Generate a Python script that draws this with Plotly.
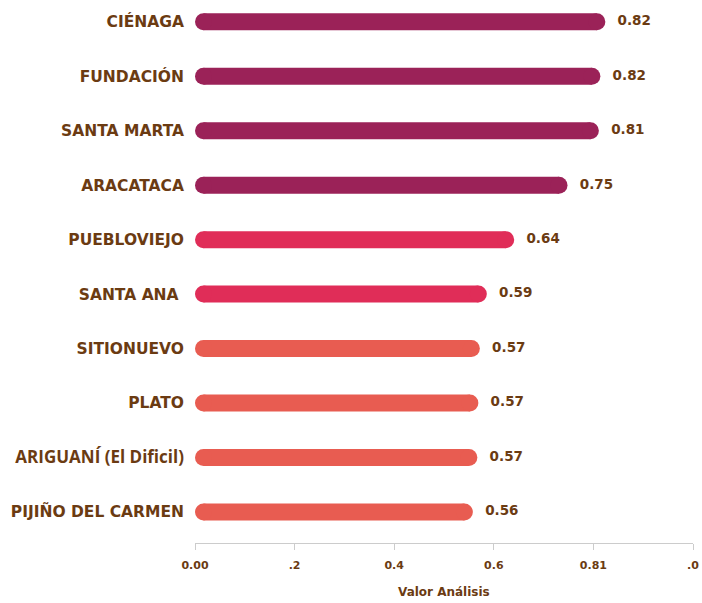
import plotly.graph_objects as go

categories = ["CIÉNAGA", "FUNDACIÓN", "SANTA MARTA", "ARACATACA", "PUEBLOVIEJO",
              "SANTA ANA ", "SITIONUEVO", "PLATO", "ARIGUANÍ (El Dificil)", "PIJIÑO DEL CARMEN"]
values = [0.824, 0.814, 0.811, 0.748, 0.641, 0.586, 0.572, 0.569, 0.567, 0.558]
labels = ["0.82", "0.82", "0.81", "0.75", "0.64", "0.59", "0.57", "0.57", "0.57", "0.56"]
groups = [0, 0, 0, 0, 1, 1, 2, 2, 2, 2]
group_colors = ["#9B2258", "#E02D58", "#E85C51"]
tick_vals = [0, 0.2, 0.4, 0.6, 0.8, 1.0]
tick_text = ["0.00", ".2", "0.4", "0.6", "0.81", ".0"]
x_title = "Valor Análisis"

W, H = 702, 603
margin = dict(l=195, r=9, t=0, b=60)
plot_w = W - margin["l"] - margin["r"]
plot_h = H - margin["t"] - margin["b"]
x_range = [0, 1.0]
bar_px = 17
cap = (bar_px / 2) * (x_range[1] - x_range[0]) / plot_w

brown = "#6B3B12"

fig = go.Figure()
for i, (cat, v) in enumerate(zip(categories, values)):
    col = group_colors[groups[i]]
    fig.add_trace(go.Scatter(
        x=[cap, v - cap], y=[i, i], mode="lines+markers",
        line=dict(color=col, width=bar_px),
        marker=dict(color=col, size=bar_px, line=dict(width=0)),
        hoverinfo="skip", showlegend=False))

fig.add_trace(go.Scatter(
    x=values, y=list(range(len(values))), mode="markers+text",
    marker=dict(size=18, opacity=0),
    text=labels, textposition="middle right",
    textfont=dict(family="DejaVu Sans", size=13.5, color=brown, weight="bold"),
    showlegend=False, hoverinfo="skip", cliponaxis=False))

ytext = []
for c in categories:
    if c.startswith("ARIGUAN"):
        ytext.append(f"<span style=\"font-family:'Open Sans';font-size:17px\"><b>{c}</b></span>")
    else:
        ytext.append(f"<b>{c}</b>")

# axis title as a paper annotation below the tick labels
fig.add_annotation(xref="paper", yref="paper", x=0.5, y=-49 / plot_h,
                   xanchor="center", yanchor="middle", showarrow=False,
                   text=f"<b>{x_title}</b>",
                   font=dict(family="DejaVu Sans", size=12, color=brown))

n = len(categories)
fig.update_layout(
    width=W, height=H, margin=margin,
    plot_bgcolor="white", paper_bgcolor="white",
    font=dict(family="DejaVu Sans", color=brown),
    xaxis=dict(range=x_range, tickmode="array", tickvals=tick_vals, ticktext=tick_text,
               showgrid=False, zeroline=False, showline=True, linecolor="#CCCCCC",
               ticks="outside", ticklen=6, tickcolor="#CCCCCC",
               tickfont=dict(size=11, color=brown, weight="bold"), ticklabelstandoff=6,
               ticklabeloverflow="allow"),
    yaxis=dict(range=[n - 1 + 0.57, -0.4], tickvals=list(range(n)), ticktext=ytext,
               showgrid=False, zeroline=False, showline=False, ticks="",
               tickfont=dict(size=15.5, color=brown), ticklabelstandoff=10),
)

fig.write_html("out.html", config={"displayModeBar": False},
               post_script="document.body.style.margin='0';")
